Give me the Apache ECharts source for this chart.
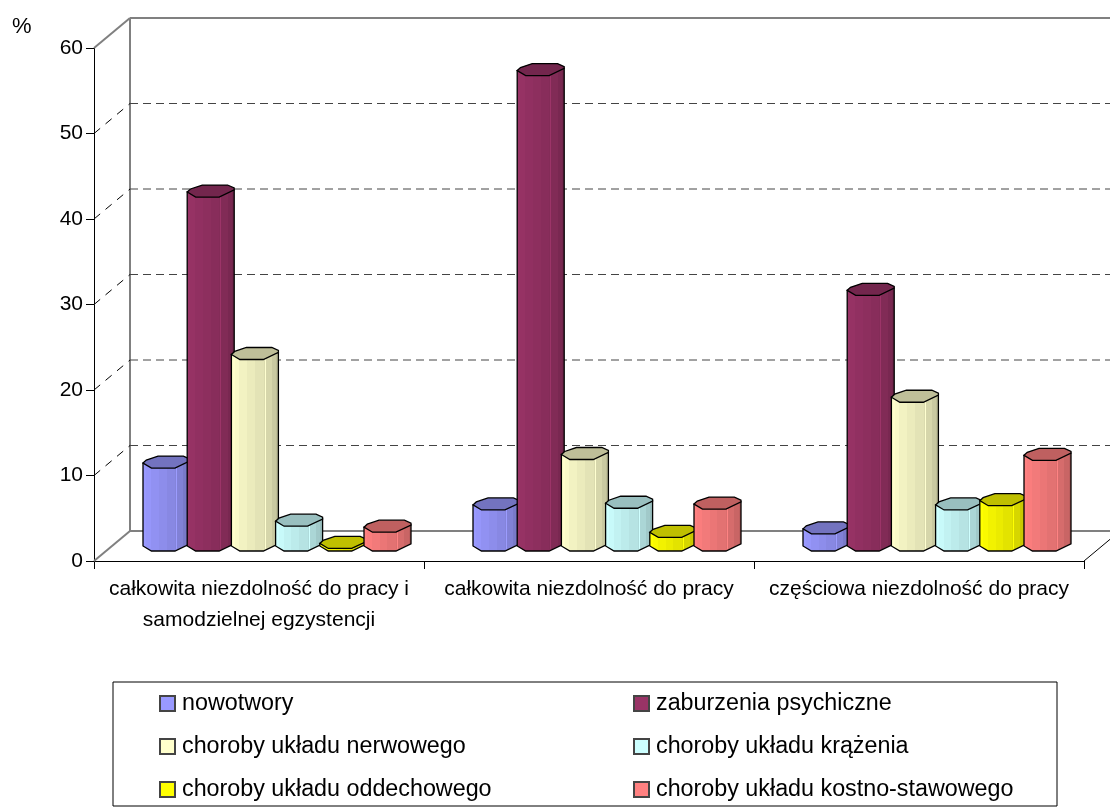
<!DOCTYPE html>
<html><head><meta charset="utf-8">
<style>html,body{margin:0;padding:0;background:#fff}#c{width:1110px;height:807px}</style>
<script src="https://cdn.jsdelivr.net/npm/echarts@6/dist/echarts.min.js"></script>
</head><body><div id="c"></div>
<script>
const categories = ['całkowita niezdolność do pracy i\nsamodzielnej egzystencji','całkowita niezdolność do pracy','częściowa niezdolność do pracy'];
const yTicks = [0,10,20,30,40,50,60];
const nowotwory = [9.7,4.8,2.0];
const psychiczne = [41.4,55.6,29.9];
const nerwowego = [22.4,10.7,17.4];
const krazenia = [2.9,5.0,4.8];
const oddechowego = [0.3,1.6,5.3];
const kostne = [2.2,4.9,10.6];
const seriesNames = ['nowotwory','zaburzenia psychiczne','choroby układu nerwowego','choroby układu krążenia','choroby układu oddechowego','choroby układu kostno-stawowego'];
const seriesValues = [nowotwory,psychiczne,nerwowego,krazenia,oddechowego,kostne];
const colors = ['#9999FF','#993366','#FFFFCC','#CCFFFF','#FFFF00','#FF8080'];

const FONT = '"Liberation Sans", Arial, sans-serif';
const DX = 36, DY = 30;           // depth of the 3D box
const STEP = 44.2, W = 47, H = 12; // bar geometry
const TOP = [[0,.58],[.07,.33],[.32,0],[.86,0],[1,.25],[1,.4],[.68,1],[.18,1]];
function shade(hex,f){
  const n=parseInt(hex.slice(1),16);
  const c=[n>>16,(n>>8)&255,n&255].map(v=>Math.min(255,Math.round(v*f)));
  return 'rgb('+c.join(',')+')';
}
function bodyFill(c){
  const st=[[0,1],[.08,1],[.08,.98],[.18,.98],[.18,.95],[.34,.95],[.34,.92],[.5,.92],[.5,.89],[.68,.89],[.68,.86],[.7,.86],[.7,1.02],[.72,1.02],[.72,.84],[.85,.84],[.85,.79],[.94,.79],[.94,.74],[1,.74]];
  return {type:'linear',x:0,y:0,x2:1,y2:0,colorStops:st.map(s=>({offset:s[0],color:shade(c,s[1])}))};
}
function barRender(si){
  return function(params,api){
    const cat=api.value(0), v=api.value(1);
    const base=api.coord([cat,0]), top=api.coord([cat,v]);
    const x0=base[0]+DX/2-(STEP*6+W-STEP)/2+si*STEP;
    const yb=base[1]-DY/2-1-H/2, yt=top[1]-DY/2-1-H/2;
    const c=colors[si];
    const topPts=TOP.map(p=>[x0+p[0]*W,yt+p[1]*H]);
    const body=[[x0,yt+.58*H],[x0,yb+.58*H],[x0+.18*W,yb+H],[x0+.68*W,yb+H],[x0+W,yb+.4*H],[x0+W,yt+.4*H]];
    return {type:'group',children:[
      {type:'polygon',shape:{points:body},style:{fill:bodyFill(c),stroke:'#000',lineWidth:1.3}},
      {type:'polygon',shape:{points:topPts},style:{fill:shade(c,.75),stroke:'#000',lineWidth:1.3}}
    ]};
  };
}
function wallRender(params,api){
  const v=api.value(0);
  const size=api.size([1,0])[0];
  const a=api.coord([0,v]), z=api.coord([2,v]);
  const xl=a[0]-size/2, xr=z[0]+size/2, y=a[1];
  const ch=[];
  const isEdge=(v===yTicks[0]||v===yTicks[yTicks.length-1]);
  const wall={stroke:'#808080',lineWidth:2};
  if(isEdge){
    ch.push({type:'line',shape:{x1:xl+DX,y1:y-DY,x2:xr+DX,y2:y-DY},style:wall});
    ch.push({type:'line',shape:{x1:xl,y1:y,x2:xl+DX,y2:y-DY},style:wall});
  } else {
    ch.push({type:'line',shape:{x1:xl+DX,y1:y-DY,x2:xr+DX,y2:y-DY},style:{stroke:'#444',lineWidth:1,lineDash:[8,5]}});
    ch.push({type:'line',shape:{x1:xl,y1:y,x2:xl+DX,y2:y-DY},style:{stroke:'#000',lineWidth:1,lineDash:[8,7]}});
  }
  if(v===yTicks[0]){
    const t=api.coord([0,yTicks[yTicks.length-1]])[1];
    ch.push({type:'line',shape:{x1:xl+DX,y1:y-DY,x2:xl+DX,y2:t-DY},style:wall});
    ch.push({type:'line',shape:{x1:xr,y1:y,x2:xr+DX,y2:y-DY},style:{stroke:'#000',lineWidth:1}});
  }
  return {type:'group',children:ch};
}
const series=[{
  type:'custom',name:'wall',silent:true,z:1,clip:false,
  data:yTicks.map(v=>[v]),encode:{y:0},renderItem:wallRender
}];
seriesNames.forEach((name,si)=>{
  series.push({
    type:'custom',name,z:3+si,clip:false,
    itemStyle:{color:colors[si],borderColor:'#444',borderWidth:1},
    encode:{x:0,y:1},
    data:seriesValues[si].map((v,i)=>[i,v]),
    renderItem:barRender(si)
  });
});
const legendBase={
  orient:'vertical',top:687,itemWidth:15,itemHeight:15,itemGap:20,icon:'rect',
  selectedMode:false,
  textStyle:{fontFamily:FONT,fontSize:23.3,color:'#000',lineHeight:22,padding:[0,0,0,2]}
};
const chart=echarts.init(document.getElementById('c'),null,{renderer:'canvas'});
chart.setOption({
  animation:false,
  backgroundColor:'#fff',
  title:{text:'%',left:7,top:11,textStyle:{fontFamily:FONT,fontSize:22,fontWeight:'normal',color:'#000'}},
  grid:{left:94,top:48,width:990,height:513,containLabel:false},
  xAxis:{type:'category',data:categories,boundaryGap:true,
    axisLine:{lineStyle:{color:'#000',width:1}},
    axisTick:{show:true,length:8,lineStyle:{color:'#000'}},
    splitLine:{show:false},
    axisLabel:{fontFamily:FONT,fontSize:21,color:'#000',lineHeight:31,margin:13,interval:0,hideOverlap:false}},
  yAxis:{type:'value',min:0,max:60,interval:10,
    axisLine:{show:true,lineStyle:{color:'#000',width:1}},
    axisTick:{show:true,length:8,lineStyle:{color:'#000'}},
    splitLine:{show:false},
    axisLabel:{fontFamily:FONT,fontSize:21,color:'#000',margin:11}},
  legend:[
    Object.assign({},legendBase,{left:154,data:[seriesNames[0],seriesNames[2],seriesNames[4]]}),
    Object.assign({},legendBase,{left:628,data:[seriesNames[1],seriesNames[3],seriesNames[5]]})
  ],
  graphic:[{type:'rect',z:-1,shape:{x:113,y:682,width:944,height:124},style:{fill:'none',stroke:'#000',lineWidth:1}}],
  series
});
</script></body></html>
